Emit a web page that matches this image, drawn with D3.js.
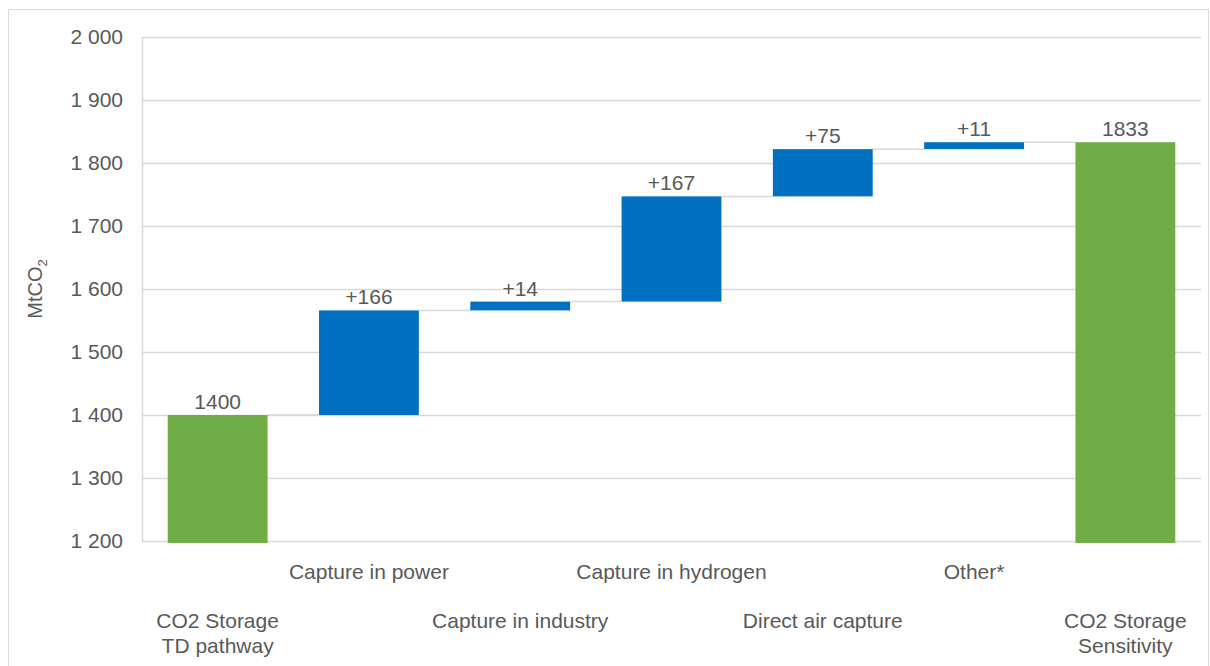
<!DOCTYPE html>
<html><head><meta charset="utf-8">
<script src="https://cdn.jsdelivr.net/npm/d3@7"></script>
<style>body{margin:0;background:#fff;}svg{display:block;font-family:"Liberation Sans",Arial,sans-serif;}</style>
</head><body>
<svg id="c" width="1210" height="666"></svg>
<script>
const categories = ["CO2 Storage\nTD pathway","Capture in power","Capture in industry","Capture in hydrogen","Direct air capture","Other*","CO2 Storage\nSensitivity"];
const kinds = ["total","delta","delta","delta","delta","delta","total"];
const values = [1400,166,14,167,75,11,1833];
const labels = ["1400","+166","+14","+167","+75","+11","1833"];
const yTicks = [1200,1300,1400,1500,1600,1700,1800,1900,2000];

const svg = d3.select("#c");
const m = {l:142, r:1201, t:37, b:541};
svg.append("rect").attr("x",8.5).attr("y",9.5).attr("width",1200).attr("height",700)
  .attr("fill","none").attr("stroke","#d9d9d9");

const x = d3.scaleBand().domain(d3.range(categories.length)).range([m.l,m.r]).paddingInner(0.34).paddingOuter(0.17);
const y = d3.scaleLinear().domain([1200,2000]).range([m.b,m.t]);

// gridlines
svg.append("g").selectAll("line").data(yTicks).join("line")
  .attr("x1",m.l).attr("x2",m.r).attr("y1",d=>Math.round(y(d))+0.5).attr("y2",d=>Math.round(y(d))+0.5)
  .attr("stroke","#d9d9d9").attr("stroke-width",1.5);
svg.append("line").attr("x1",m.l+0.5).attr("x2",m.l+0.5).attr("y1",m.t).attr("y2",m.b)
  .attr("stroke","#d9d9d9").attr("stroke-width",1.5);

// y axis
const ya = svg.append("g").attr("transform",`translate(${m.l},0)`)
  .call(d3.axisLeft(y).tickValues(yTicks).tickSize(0).tickPadding(19)
    .tickFormat(d=>d3.format(",")(d).replace(",", " ")));
ya.select(".domain").remove();
ya.selectAll("text").attr("font-size",21).attr("fill","#595959").attr("font-family","Liberation Sans, Arial, sans-serif");

// compute waterfall
let run = 0;
const bars = values.map((v,i)=>{
  let lo, hi;
  if (kinds[i]==="total"){ lo=1200; hi=v; run=v; }
  else { lo=run; hi=run+v; run=hi; }
  return {i, lo, hi};
});

// connectors
svg.append("g").selectAll("line").data(bars.slice(0,-1)).join("line")
  .attr("x1",d=>x(d.i)+x.bandwidth()).attr("x2",d=>x(d.i+1))
  .attr("y1",d=>y(d.hi)).attr("y2",d=>y(d.hi))
  .attr("stroke","#d9d9d9").attr("stroke-width",1.5);

// bars
svg.append("g").selectAll("rect").data(bars).join("rect")
  .attr("x",d=>x(d.i)).attr("width",x.bandwidth())
  .attr("y",d=>y(d.hi))
  .attr("height",d=>y(d.lo)-y(d.hi)+(kinds[d.i]==="total"?2:0))
  .attr("fill",d=>kinds[d.i]==="total"?"#70ad47":"#0070c0");

// data labels
svg.append("g").selectAll("text").data(bars).join("text")
  .attr("x",d=>x(d.i)+x.bandwidth()/2).attr("y",d=>y(d.hi)-6)
  .attr("text-anchor","middle").attr("font-size",21).attr("fill","#595959")
  .text(d=>labels[d.i]);

// x labels (staggered)
const xl = svg.append("g");
categories.forEach((c,i)=>{
  const lines = c.split("\n");
  const y0 = i%2===1 ? 579 : 628;
  const t = xl.append("text").attr("text-anchor","middle").attr("font-size",21).attr("fill","#595959");
  lines.forEach((ln,j)=>{
    t.append("tspan").attr("x",x(i)+x.bandwidth()/2).attr("y",y0+j*25).text(ln);
  });
});

// y title
const yt = svg.append("text").attr("transform","translate(42,289) rotate(-90)")
  .attr("text-anchor","middle").attr("font-size",20).attr("fill","#595959");
yt.append("tspan").text("MtCO");
yt.append("tspan").attr("font-size",13).attr("dy",5).text("2");
</script>
</body></html>
